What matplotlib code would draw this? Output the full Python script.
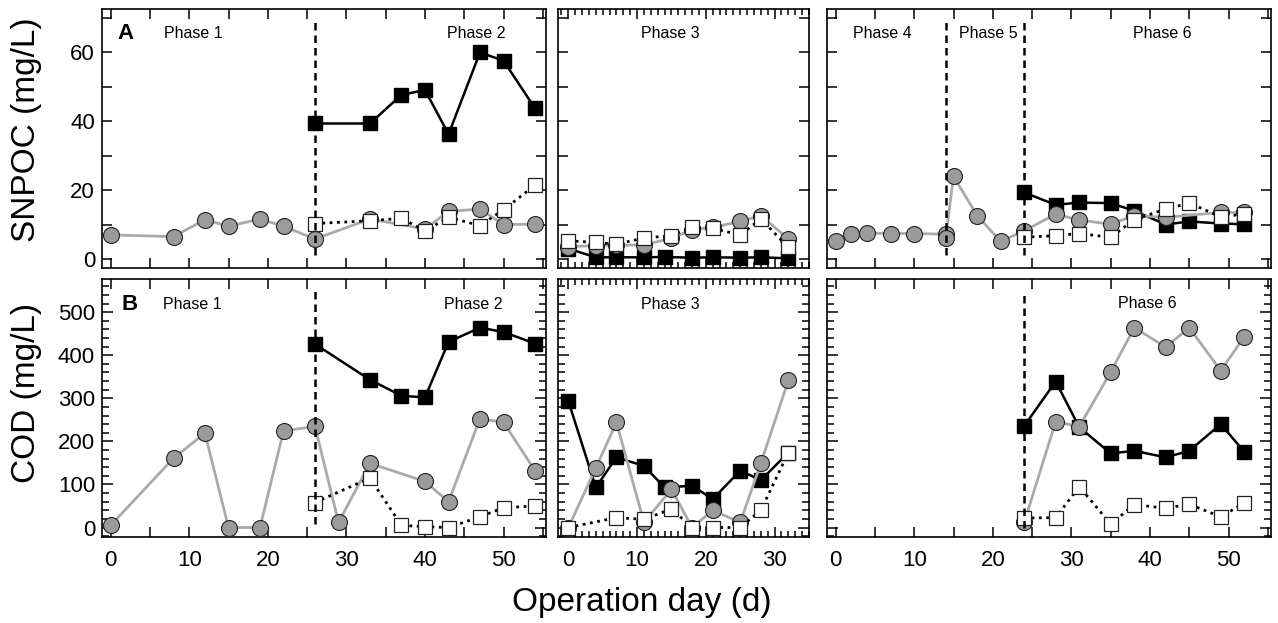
import matplotlib
matplotlib.use("Agg")
import matplotlib.pyplot as plt
from matplotlib.ticker import MultipleLocator

plt.rcParams['font.family'] = ['Liberation Sans', 'DejaVu Sans']

# ---- SNPOC (panel A) ----
# phases 1-2
a1_gray_day = [0, 8, 12, 15, 19, 22, 26, 33, 40, 43, 47, 50, 54]
a1_gray = [7.0, 6.5, 11.4, 9.5, 11.6, 9.5, 5.8, 11.6, 8.7, 13.8, 14.5, 10.0, 10.1]
a1_sq_day = [26, 33, 37, 40, 43, 47, 50, 54]
a1_black = [39.3, 39.3, 47.6, 49.0, 36.2, 59.9, 57.5, 43.7]
a1_white = [10.3, 11.1, 11.8, 8.2, 12.1, 9.7, 14.3, 21.4]
# phase 3
a3_black_day = [0, 4, 7, 11, 14, 18, 21, 25, 28, 32]
a3_black = [3.0, 0.5, 0.5, 0.5, 0.6, 0.4, 0.5, 0.4, 0.5, 0.2]
a3_day = [0, 4, 7, 11, 15, 18, 21, 25, 28, 32]
a3_gray = [3.6, 3.9, 4.0, 4.1, 6.0, 8.5, 9.2, 10.9, 12.6, 5.8]
a3_white = [5.3, 4.8, 4.3, 6.1, 6.8, 9.2, 8.9, 7.0, 11.6, 3.4]
# phases 4-6
a6_gray_day = [0, 2, 4, 7, 10, 14, 14, 15, 18, 21, 24, 28, 31, 35, 38, 42, 49, 52]
a6_gray = [5.3, 7.2, 7.5, 7.4, 7.4, 7.2, 6.1, 24.0, 12.6, 5.1, 8.2, 13.0, 11.3, 10.1, 12.6, 12.1, 13.5, 13.5]
a6_sq_day = [24, 28, 31, 35, 38, 42, 45, 49, 52]
a6_black = [19.3, 15.7, 16.4, 16.2, 14.0, 10.0, 10.9, 10.3, 10.1]
a6_white = [6.3, 6.8, 7.4, 6.3, 11.4, 14.5, 16.2, 12.3, 13.0]

# ---- COD (panel B) ----
b1_gray_day = [0, 8, 12, 15, 19, 22, 26, 29, 33, 40, 43, 47, 50, 54]
b1_gray = [5, 161, 219, 0, 0, 224, 235, 12, 149, 107, 60, 253, 244, 132]
b1_sq_day = [26, 33, 37, 40, 43, 47, 50, 54]
b1_black = [426, 343, 306, 302, 431, 464, 454, 427]
b1_white = [58, 115, 5, 2, 0, 25, 46, 50]

b3_black_day = [0, 4, 7, 11, 14, 18, 21, 25, 28, 32]
b3_black = [294, 93, 163, 143, 93, 97, 66, 132, 110, 174]
b3_gray_day = [0, 4, 7, 11, 15, 18, 21, 25, 28, 32]
b3_gray = [0, 138, 244, 12, 89, 0, 40, 12, 149, 342]
b3_white_day = [0, 7, 11, 15, 18, 21, 25, 28, 32]
b3_white = [0, 23, 19, 43, 0, 0, 0, 40, 174]

b6_day = [24, 28, 31, 35, 38, 42, 45, 49, 52]
b6_black = [236, 339, 233, 172, 178, 163, 178, 240, 176]
b6_gray = [12, 246, 234, 361, 464, 419, 464, 364, 443]
b6_white = [22, 23, 95, 8, 53, 45, 54, 25, 57]


def draw(ax, bx, by, gx, gy, wx, wy):
    if bx:
        ax.plot(bx, by, color='black', lw=1.8, marker='s', ms=10,
                mfc='black', mec='black', zorder=3)
    ax.plot(gx, gy, color='#aaaaaa', lw=2, marker='o', ms=11.5,
            mfc='#9b9b9b', mec='#222222', mew=0.8, zorder=4)
    if wx:
        ax.plot(wx, wy, color='black', lw=2, ls=':', marker='s', ms=10.5,
                mfc='white', mec='#222222', mew=0.9, zorder=5)


def phase_line(ax, x, y0=0.05, y1=0.965):
    ax.axvline(x, ymin=y0, ymax=y1, color='black', lw=1.8,
               ls=(0, (3, 2)), zorder=6)


def style(ax, wide, top):
    ax.tick_params(which='both', direction='in', top=True, right=True,
                   labelsize=16, width=1.1)
    ax.tick_params(axis='x', pad=9)
    ax.tick_params(axis='y', pad=5)
    if wide:
        ax.set_xlim(-1.1, 55.4)
        ax.xaxis.set_major_locator(MultipleLocator(10))
        ax.xaxis.set_minor_locator(MultipleLocator(5))
        ax.tick_params(axis='x', which='both', length=7)
    else:
        ax.set_xlim(-1.5, 35)
        ax.xaxis.set_major_locator(MultipleLocator(10))
        ax.xaxis.set_minor_locator(MultipleLocator(1))
        ax.tick_params(axis='x', which='major', length=7)
        ax.tick_params(axis='x', which='minor', length=4)
    if top:
        ax.set_ylim(-2.6, 72.5)
        ax.yaxis.set_major_locator(MultipleLocator(20))
        ax.yaxis.set_minor_locator(MultipleLocator(10))
        ax.tick_params(axis='y', which='both', length=7)
        ax.tick_params(labelbottom=False)
    else:
        ax.set_ylim(-22, 577)
        ax.yaxis.set_major_locator(MultipleLocator(100))
        ax.yaxis.set_minor_locator(MultipleLocator(20))
        ax.tick_params(axis='y', which='major', length=8)
        ax.tick_params(axis='y', which='minor', length=5)
    for s in ax.spines.values():
        s.set_linewidth(1.2)


fig = plt.figure(figsize=(12.78, 6.23), dpi=100)
W = 1278.0
H = 623.0
cols = [(102, 444), (558, 251), (827, 444)]
rows = [(9, 259), (279, 258)]
axes = []
for r, (ty, hh) in enumerate(rows):
    row = []
    for c, (lx, ww) in enumerate(cols):
        ax = fig.add_axes([lx / W, 1 - (ty + hh) / H, ww / W, hh / H])
        style(ax, c != 1, r == 0)
        if c > 0:
            ax.tick_params(labelleft=False)
        row.append(ax)
    axes.append(row)

txt = dict(fontsize=11.5, ha='center', va='center')

# row A
ax = axes[0][0]
draw(ax, a1_sq_day, a1_black, a1_gray_day, a1_gray, a1_sq_day, a1_white)
phase_line(ax, 26)
tr = ax.get_xaxis_transform()
ax.text(0.9, 0.905, 'A', transform=tr, fontsize=16, fontweight='bold', va='center')
ax.text(10.5, 0.905, 'Phase 1', transform=tr, **txt)
ax.text(46.5, 0.905, 'Phase 2', transform=tr, **txt)

ax = axes[0][1]
draw(ax, a3_black_day, a3_black, a3_day, a3_gray, a3_day, a3_white)
ax.text(14.8, 0.905, 'Phase 3', transform=ax.get_xaxis_transform(), **txt)

ax = axes[0][2]
draw(ax, a6_sq_day, a6_black, a6_gray_day, a6_gray, a6_sq_day, a6_white)
phase_line(ax, 14)
phase_line(ax, 24)
tr = ax.get_xaxis_transform()
ax.text(6.0, 0.905, 'Phase 4', transform=tr, **txt)
ax.text(19.4, 0.905, 'Phase 5', transform=tr, **txt)
ax.text(41.6, 0.905, 'Phase 6', transform=tr, **txt)

# row B
ax = axes[1][0]
draw(ax, b1_sq_day, b1_black, b1_gray_day, b1_gray, b1_sq_day, b1_white)
phase_line(ax, 26, 0.05, 0.955)
tr = ax.get_xaxis_transform()
ax.text(1.4, 0.9, 'B', transform=tr, fontsize=16, fontweight='bold', va='center')
ax.text(10.4, 0.9, 'Phase 1', transform=tr, **txt)
ax.text(46.2, 0.9, 'Phase 2', transform=tr, **txt)

ax = axes[1][1]
draw(ax, b3_black_day, b3_black, b3_gray_day, b3_gray, b3_white_day, b3_white)
ax.text(14.8, 0.9, 'Phase 3', transform=ax.get_xaxis_transform(), **txt)

ax = axes[1][2]
draw(ax, b6_day, b6_black, b6_day, b6_gray, b6_day, b6_white)
phase_line(ax, 24, 0.035, 0.955)
ax.text(39.7, 0.905, 'Phase 6', transform=ax.get_xaxis_transform(), **txt)

fig.text(27 / W, 1 - 130 / H, 'SNPOC (mg/L)', rotation=90, fontsize=24,
         ha='center', va='center')
fig.text(27 / W, 1 - 393 / H, 'COD (mg/L)', rotation=90, fontsize=24,
         ha='center', va='center')
fig.text(642 / W, 1 - 603 / H, 'Operation day (d)', fontsize=24,
         ha='center', va='center')

fig.savefig('out.png', dpi=100)
